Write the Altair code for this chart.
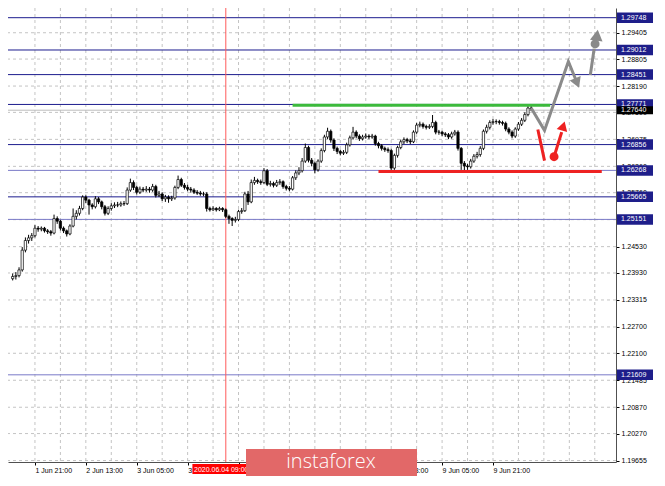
import altair as alt
import pandas as pd

# ---------------- data ----------------
first_open = 1.2380
closes = [
    1.2385, 1.2387, 1.2400, 1.2445, 1.2467, 1.2473, 1.2478, 1.2495, 1.2493, 1.2495,
    1.2489, 1.2487, 1.2484, 1.2517, 1.2511, 1.2495, 1.2489, 1.2482, 1.2500, 1.2522,
    1.2529, 1.2540, 1.2566, 1.2559, 1.2548, 1.2544, 1.2562, 1.2555, 1.2544, 1.2529,
    1.2540, 1.2546, 1.2548, 1.2548, 1.2551, 1.2551, 1.2582, 1.2599, 1.2588, 1.2577,
    1.2584, 1.2582, 1.2584, 1.2582, 1.2590, 1.2570, 1.2573, 1.2562, 1.2566, 1.2562,
    1.2564, 1.2588, 1.2606, 1.2593, 1.2588, 1.2584, 1.2582, 1.2577, 1.2575, 1.2573,
    1.2573, 1.2540, 1.2537, 1.2540, 1.2537, 1.2540, 1.2537, 1.2522, 1.2517, 1.2513,
    1.2515, 1.2533, 1.2535, 1.2573, 1.2555, 1.2599, 1.2604, 1.2601, 1.2599, 1.2626,
    1.2595, 1.2597, 1.2593, 1.2599, 1.2601, 1.2590, 1.2586, 1.2584, 1.2610, 1.2621,
    1.2626, 1.2648, 1.2679, 1.2650, 1.2643, 1.2628, 1.2648, 1.2672, 1.2703, 1.2716,
    1.2696, 1.2677, 1.2670, 1.2666, 1.2668, 1.2685, 1.2701, 1.2714, 1.2705, 1.2699,
    1.2703, 1.2705, 1.2703, 1.2705, 1.2688, 1.2683, 1.2677, 1.2674, 1.2672, 1.2632,
    1.2661, 1.2679, 1.2692, 1.2697, 1.2694, 1.2692, 1.2714, 1.2730, 1.2732, 1.2727,
    1.2725, 1.2727, 1.2736, 1.2714, 1.2714, 1.2710, 1.2708, 1.2703, 1.2710, 1.2714,
    1.2677, 1.2643, 1.2637, 1.2635, 1.2648, 1.2659, 1.2663, 1.2677, 1.2716, 1.2725,
    1.2736, 1.2738, 1.2738, 1.2736, 1.2734, 1.2721, 1.2714, 1.2705, 1.2721, 1.2732,
    1.2741, 1.2754, 1.2769, 1.2767]
highs = [
    1.2392, 1.2395, 1.2406, 1.2452, 1.2474, 1.2480, 1.2484, 1.2502, 1.2500, 1.2499,
    1.2498, 1.2493, 1.2491, 1.2526, 1.2522, 1.2514, 1.2499, 1.2492, 1.2504, 1.2540,
    1.2536, 1.2546, 1.2570, 1.2570, 1.2562, 1.2552, 1.2568, 1.2566, 1.2558, 1.2548,
    1.2545, 1.2552, 1.2554, 1.2555, 1.2556, 1.2557, 1.2588, 1.2608, 1.2604, 1.2592,
    1.2590, 1.2589, 1.2591, 1.2589, 1.2596, 1.2594, 1.2580, 1.2577, 1.2571, 1.2570,
    1.2569, 1.2592, 1.2615, 1.2610, 1.2598, 1.2594, 1.2589, 1.2586, 1.2582, 1.2580,
    1.2578, 1.2577, 1.2544, 1.2545, 1.2543, 1.2544, 1.2543, 1.2540, 1.2526, 1.2520,
    1.2521, 1.2537, 1.2541, 1.2578, 1.2580, 1.2606, 1.2612, 1.2608, 1.2606, 1.2632,
    1.2630, 1.2603, 1.2601, 1.2605, 1.2607, 1.2604, 1.2594, 1.2591, 1.2614, 1.2627,
    1.2634, 1.2655, 1.2688, 1.2683, 1.2655, 1.2647, 1.2652, 1.2677, 1.2708, 1.2724,
    1.2720, 1.2700, 1.2681, 1.2674, 1.2673, 1.2690, 1.2706, 1.2726, 1.2718, 1.2709,
    1.2708, 1.2711, 1.2709, 1.2710, 1.2708, 1.2692, 1.2687, 1.2681, 1.2679, 1.2676,
    1.2665, 1.2683, 1.2697, 1.2702, 1.2701, 1.2699, 1.2718, 1.2735, 1.2738, 1.2736,
    1.2731, 1.2732, 1.2753, 1.2740, 1.2719, 1.2717, 1.2714, 1.2712, 1.2715, 1.2719,
    1.2718, 1.2680, 1.2648, 1.2642, 1.2653, 1.2664, 1.2669, 1.2682, 1.2720, 1.2731,
    1.2741, 1.2744, 1.2743, 1.2742, 1.2740, 1.2738, 1.2725, 1.2718, 1.2725, 1.2737,
    1.2746, 1.2759, 1.2777, 1.2776]
lows = [
    1.2376, 1.2378, 1.2383, 1.2396, 1.2440, 1.2460, 1.2466, 1.2474, 1.2487, 1.2488,
    1.2485, 1.2482, 1.2478, 1.2481, 1.2505, 1.2490, 1.2484, 1.2476, 1.2479, 1.2497,
    1.2515, 1.2524, 1.2536, 1.2552, 1.2526, 1.2538, 1.2540, 1.2550, 1.2538, 1.2524,
    1.2525, 1.2535, 1.2541, 1.2543, 1.2544, 1.2546, 1.2548, 1.2578, 1.2582, 1.2572,
    1.2573, 1.2577, 1.2578, 1.2576, 1.2578, 1.2565, 1.2566, 1.2557, 1.2555, 1.2553,
    1.2557, 1.2560, 1.2584, 1.2589, 1.2583, 1.2579, 1.2576, 1.2573, 1.2571, 1.2569,
    1.2568, 1.2533, 1.2533, 1.2534, 1.2533, 1.2534, 1.2532, 1.2518, 1.2505, 1.2500,
    1.2508, 1.2511, 1.2528, 1.2532, 1.2548, 1.2552, 1.2594, 1.2596, 1.2594, 1.2596,
    1.2591, 1.2590, 1.2588, 1.2589, 1.2594, 1.2585, 1.2581, 1.2579, 1.2581, 1.2605,
    1.2616, 1.2622, 1.2644, 1.2645, 1.2636, 1.2620, 1.2624, 1.2644, 1.2668, 1.2698,
    1.2690, 1.2671, 1.2664, 1.2661, 1.2662, 1.2664, 1.2681, 1.2697, 1.2700, 1.2694,
    1.2695, 1.2699, 1.2698, 1.2699, 1.2683, 1.2677, 1.2672, 1.2669, 1.2667, 1.2626,
    1.2628, 1.2656, 1.2675, 1.2687, 1.2689, 1.2687, 1.2689, 1.2710, 1.2725, 1.2722,
    1.2720, 1.2721, 1.2723, 1.2709, 1.2708, 1.2705, 1.2703, 1.2698, 1.2699, 1.2706,
    1.2672, 1.2628, 1.2627, 1.2628, 1.2631, 1.2644, 1.2654, 1.2658, 1.2673, 1.2711,
    1.2720, 1.2731, 1.2732, 1.2731, 1.2729, 1.2716, 1.2709, 1.2700, 1.2701, 1.2717,
    1.2728, 1.2737, 1.2750, 1.2762]

# time labels (labels hidden under the watermark in the picture are left blank)
x_label_bars = [7, 23, 39, 55, 71, 87, 103, 119, 135, 151]
x_labels = ["1 Jun 21:00", "2 Jun 13:00", "3 Jun 05:00", "3 Jun 21:00", "",
            "", "", "8 Jun 13:00", "9 Jun 05:00", "9 Jun 21:00"]
x_grid_bars = [7, 15, 23, 31, 39, 47, 55, 63, 71, 79, 87, 95, 103, 111, 119, 127,
               135, 143, 151, 159, 167, 175, 183]
y_ticks = [1.19655, 1.20270, 1.20870, 1.21485, 1.22100, 1.22700, 1.23315, 1.23930,
           1.24530, 1.25145, 1.25760, 1.26360, 1.26975, 1.27590, 1.28190, 1.28805, 1.29405]

level_prices = [1.29748, 1.29012, 1.28451, 1.27771, 1.26856, 1.26268, 1.25665, 1.25151, 1.21609]
level_colors = ["#1c1c8e", "#1c1c8e", "#1c1c8e", "#1c1c8e", "#1c1c8e",
                "#7a7ac8", "#1c1c8e", "#7a7ac8", "#7a7ac8"]
current_price = 1.2764
marker_bar = 67
marker_label = "2020.06.04 09:00"

resistance = {"k": [88, 169], "p": [1.2775, 1.2775]}
support = {"k": [115, 185.2], "p": [1.26244, 1.26244]}
grey_path_k = [163, 167.2, 174.7, 177.45]
grey_path_p = [1.2769, 1.2718, 1.2875, 1.2826]
grey_head = {"k": [177.45], "p": [1.2826]}
grey_up_k = [181.6, 182.8]
grey_up_p = [1.2844, 1.2904]
grey_up_head = {"k": [183.7], "p": [1.2935]}
grey_up_blob = {"k": [183.1], "p": [1.2915]}
red_path_k = [165.1, 167.2]
red_path_p = [1.2720, 1.2649]
red_dot = {"k": [170.2], "p": [1.2658]}
red_arrow_k = [170.2, 172.6]
red_arrow_p = [1.2658, 1.2714]
red_head = {"k": [173.1], "p": [1.2728]}

# ---------------- tables ----------------
opens = [first_open] + closes[:-1]
df = pd.DataFrame({"k": list(range(len(closes))), "open": opens, "high": highs,
                   "low": lows, "close": closes})
df["up"] = df["close"] >= df["open"]

W, H = 608, 454
FONT = "Liberation Sans"
xs = alt.Scale(domain=[0.1, 188.1], nice=False, zero=False)
ys = alt.Scale(domain=[1.19622, 1.29969], nice=False, zero=False)

label_expr = "[" + ",".join("'%s'" % s for s in x_labels) + "][indexof([" + \
    ",".join(str(v) for v in x_label_bars) + "], datum.value)]"

x_axis = alt.Axis(orient="bottom", values=x_label_bars, labelExpr=label_expr, labelFont=FONT,
                  labelFontSize=7, labelColor="#000", labelAlign="left", tickSize=3,
                  tickColor="#000", labelPadding=1, domainColor="#505050",
                  labelOverlap=False, labelFlush=False, labelBound=False, grid=False,
                  title=None)
y_axis = alt.Axis(orient="right", values=y_ticks, format=".5f", labelFont=FONT,
                  labelFontSize=7, labelColor="#000", tickSize=3, tickColor="#000",
                  labelPadding=2, domainColor="#505050", labelOverlap=False,
                  grid=False, title=None)


def X(f):
    return alt.X(f, type="quantitative", scale=xs, axis=x_axis)


def Y(f):
    return alt.Y(f, type="quantitative", scale=ys, axis=y_axis)


# grid
ygrid = alt.Chart(pd.DataFrame({"p": y_ticks})).mark_rule(
    color="#c4c4c4", strokeDash=[3, 3], strokeWidth=1).encode(y=Y("p"))
xgrid = alt.Chart(pd.DataFrame({"k": x_grid_bars})).mark_rule(
    color="#c4c4c4", strokeDash=[3, 3], strokeWidth=1).encode(x=X("k"))

levels_df = pd.DataFrame({"p": level_prices, "c": level_colors})
levels = alt.Chart(levels_df).mark_rule(strokeWidth=1).encode(
    y=Y("p"), color=alt.Color("c:N", scale=None))
price_line = alt.Chart(pd.DataFrame({"p": [current_price]})).mark_rule(
    color="#bdbdbd", strokeWidth=1).encode(y=Y("p"))
vline = alt.Chart(pd.DataFrame({"k": [marker_bar]})).mark_rule(
    color="#ff5a5a", strokeWidth=1).encode(x=X("k"))

wicks = alt.Chart(df).mark_rule(color="#000", strokeWidth=1).encode(
    x=X("k"), y=Y("low"), y2="high")
bodies = alt.Chart(df).mark_bar(size=2.3, stroke="#000", strokeWidth=0.7,
                                orient="vertical").encode(
    x=X("k"), y=Y("open"), y2="close",
    fill=alt.condition("datum.up", alt.value("#ffffff"), alt.value("#000000")))


def seg(dct, color, width):
    return alt.Chart(pd.DataFrame(dct)).mark_line(
        color=color, strokeWidth=width, strokeCap="butt").encode(x=X("k"), y=Y("p"))


green = seg(resistance, "#3cba3c", 3)
red = seg(support, "#ee2222", 3)
grey1 = alt.Chart(pd.DataFrame({"k": grey_path_k, "p": grey_path_p, "o": [0, 1, 2, 3]})).mark_line(
    color="#8a8a8a", strokeWidth=3, strokeJoin="miter").encode(x=X("k"), y=Y("p"), order="o:Q")
grey_h = alt.Chart(pd.DataFrame(grey_head)).mark_point(
    shape="triangle-up", angle=158, size=140, filled=True, color="#8a8a8a", opacity=1).encode(
    x=X("k"), y=Y("p"))
grey2 = seg({"k": grey_up_k, "p": grey_up_p}, "#8a8a8a", 3)
grey2_b = alt.Chart(pd.DataFrame(grey_up_blob)).mark_point(
    shape="circle", size=80, filled=True, color="#8a8a8a", opacity=1).encode(x=X("k"), y=Y("p"))
grey2_h = alt.Chart(pd.DataFrame(grey_up_head)).mark_point(
    shape="triangle-up", angle=8, size=160, filled=True, color="#8a8a8a", opacity=1).encode(
    x=X("k"), y=Y("p"))
red1 = seg({"k": red_path_k, "p": red_path_p}, "#ee2222", 3)
red2 = seg({"k": red_arrow_k, "p": red_arrow_p}, "#ee2222", 3)
red_d = alt.Chart(pd.DataFrame(red_dot)).mark_point(
    shape="circle", size=80, filled=True, color="#ee2222", opacity=1).encode(x=X("k"), y=Y("p"))
red_h = alt.Chart(pd.DataFrame(red_head)).mark_point(
    shape="triangle-up", angle=17, size=120, filled=True, color="#ee2222", opacity=1).encode(
    x=X("k"), y=Y("p"))

# right-side price boxes
boxes = alt.Chart(levels_df).mark_tick(orient="horizontal", size=44, thickness=10.5,
                                       color="#1e1e8a", clip=False, opacity=1).encode(
    y=Y("p"), x=alt.value(631))
box_text = alt.Chart(levels_df).mark_text(align="left", baseline="middle", font=FONT,
                                          fontSize=7, color="#ffffff", clip=False).encode(
    y=Y("p"), x=alt.value(613), text=alt.Text("p:Q", format=".5f"))
cur_box = alt.Chart(pd.DataFrame({"p": [current_price]})).mark_tick(
    orient="horizontal", size=44, thickness=8, color="#000000", clip=False, opacity=1).encode(
    y=Y("p"), x=alt.value(631))
cur_text = alt.Chart(pd.DataFrame({"p": [current_price]})).mark_text(
    align="left", baseline="middle", font=FONT, fontSize=7, color="#ffffff", clip=False).encode(
    y=Y("p"), x=alt.value(613), text=alt.Text("p:Q", format=".5f"))

# date marker box at the bottom
date_box = alt.Chart(pd.DataFrame({"a": [56.5], "b": [73.6]})).mark_rect(
    color="#ff0000", clip=False).encode(x=X("a"), x2="b", y=alt.value(456), y2=alt.value(466))
date_text = alt.Chart(pd.DataFrame({"a": [57.0], "t": [marker_label]})).mark_text(
    align="left", baseline="middle", font=FONT, fontSize=7, color="#ffffff", clip=False).encode(
    x=X("a"), y=alt.value(461.5), text="t:N")

# watermark
logo = alt.Chart(pd.DataFrame({"t": ["instaforex"]})).mark_rect(
    color="#e26868", clip=False).encode(x=alt.value(238), x2=alt.value(409),
                                         y=alt.value(441), y2=alt.value(468))
logo_text = alt.Chart(pd.DataFrame({"t": ["instaforex"]})).mark_text(
    align="center", baseline="alphabetic", font="Open Sans", fontSize=20, fontWeight=300,
    color="#ffffff", clip=False).encode(x=alt.value(323), y=alt.value(460), text="t:N")

chart = alt.layer(
    ygrid, xgrid, levels, price_line, vline, wicks, bodies, green, red,
    grey1, grey_h, grey2, grey2_b, grey2_h, red1, red2, red_d, red_h,
    boxes, box_text, cur_box, cur_text, date_box, date_text, logo, logo_text
).properties(
    width=W, height=H,
    autosize=alt.AutoSizeParams(type="none"),
    padding={"left": 0, "top": 0, "right": 37, "bottom": 14},
    background="#ffffff"
).configure_view(stroke=None)

chart.save("out.html", embed_options={"renderer": "svg", "actions": False})
